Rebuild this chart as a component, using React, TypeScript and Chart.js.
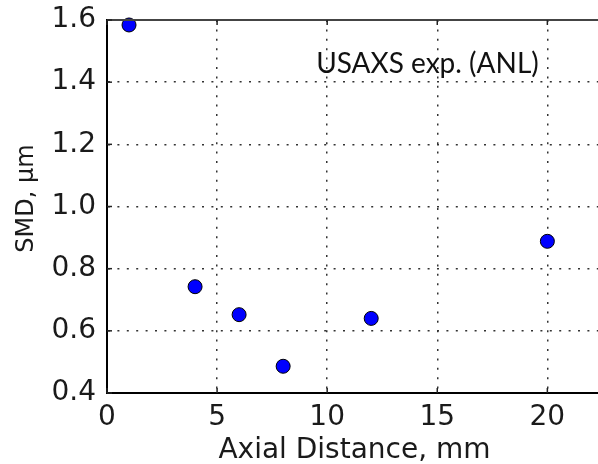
import React, { useEffect, useRef } from "react";
import { Chart, registerables } from "chart.js";

Chart.register(...registerables);

const axialDistance = [1, 4, 6, 8, 12, 20];
const smd = [1.584, 0.742, 0.652, 0.486, 0.64, 0.888];
const xTicks = [0, 5, 10, 15, 20];
const yTicks = [0.4, 0.6, 0.8, 1.0, 1.2, 1.4, 1.6];
const xRange = [0, 22.3];
const yRange = [0.4, 1.6];
const xTitle = "Axial Distance, mm";
const yTitle = "SMD, μm";
const annotationText = "USAXS exp. (ANL)";
const annotationAt = { x: 9.5, y: 1.4296 };

const FONT = "DejaVu Sans";

const decor = {
  id: "decor",
  afterDraw(chart: any) {
    const { ctx, chartArea: a, scales } = chart;
    const x = scales.x;
    const y = scales.y;
    const line = (x1: number, y1: number, x2: number, y2: number) => {
      ctx.beginPath();
      ctx.moveTo(x1, y1);
      ctx.lineTo(x2, y2);
      ctx.stroke();
    };
    ctx.save();
    ctx.strokeStyle = "#444";
    ctx.lineWidth = 2;
    line(a.left, a.top, a.right, a.top);
    ctx.strokeStyle = "#222";
    ctx.lineWidth = 1.5;
    xTicks.forEach((v) => {
      const px = x.getPixelForValue(v);
      line(px, a.bottom, px, a.bottom - 5);
      line(px, a.top, px, a.top + 5);
    });
    yTicks.forEach((v) => {
      const py = y.getPixelForValue(v);
      line(a.left, py, a.left + 5, py);
    });
    // annotation
    ctx.font = "28px Lato";
    ctx.fillStyle = "#111";
    ctx.textAlign = "left";
    ctx.textBaseline = "alphabetic";
    ctx.fillText(annotationText, x.getPixelForValue(annotationAt.x), y.getPixelForValue(annotationAt.y));
    // x title
    ctx.fillStyle = "#1a1a1a";
    ctx.font = `28px "${FONT}"`;
    ctx.textAlign = "center";
    ctx.fillText(xTitle, (a.left + a.right) / 2 + 2, a.bottom + 65);
    // y title
    ctx.font = `24px "${FONT}"`;
    ctx.translate(33, (a.top + a.bottom) / 2 - 8);
    ctx.rotate(-Math.PI / 2);
    ctx.fillText(yTitle, 0, 0);
    ctx.restore();
  },
};

export default function App() {
  const ref = useRef<HTMLCanvasElement | null>(null);
  useEffect(() => {
    if (!ref.current) return;
    const chart = new Chart(ref.current, {
      type: "scatter",
      data: {
        datasets: [
          {
            data: axialDistance.map((v, i) => ({ x: v, y: smd[i] })),
            backgroundColor: "#0000ff",
            borderColor: "#000",
            borderWidth: 1,
            pointRadius: 7,
            pointHoverRadius: 7,
            clip: false as any,
          },
        ],
      },
      options: {
        responsive: false,
        animation: false,
        layout: { autoPadding: false, padding: { top: 20, right: 0, bottom: 0, left: 0 } },
        plugins: { legend: { display: false }, tooltip: { enabled: false } },
        scales: {
          x: {
            type: "linear",
            min: xRange[0],
            max: xRange[1],
            afterBuildTicks: (s: any) => {
              s.ticks = xTicks.map((v) => ({ value: v }));
            },
            afterFit: (s: any) => {
              s.height = 71;
              s.paddingLeft = 0;
              s.paddingRight = 0;
            },
            ticks: {
              font: { family: FONT, size: 28 },
              color: "#1a1a1a",
              padding: 8,
              maxRotation: 0,
              autoSkip: false,
              callback: (v: any) => String(v),
            },
            grid: { color: "#333", lineWidth: 1.5, drawTicks: false },
            border: { display: true, color: "#000", width: 2, dash: [2, 7.4] },
            title: { display: false },
          },
          y: {
            type: "linear",
            min: yRange[0],
            max: yRange[1],
            afterBuildTicks: (s: any) => {
              s.ticks = yTicks.map((v) => ({ value: v }));
            },
            afterFit: (s: any) => {
              s.width = 107;
              s.paddingTop = 0;
              s.paddingBottom = 0;
            },
            ticks: {
              font: { family: FONT, size: 28 },
              color: "#1a1a1a",
              padding: 11,
              autoSkip: false,
              callback: (v: any) => Number(v).toFixed(1),
            },
            grid: { color: "#333", lineWidth: 1.5, drawTicks: false },
            border: { display: true, color: "#000", width: 2, dash: [2, 7.4] },
            title: { display: false },
          },
        },
      },
      plugins: [decor],
    });
    return () => chart.destroy();
  }, []);
  return (
    <div style={{ position: "absolute", left: 0, top: 0, width: 598, height: 464, background: "#fff" }}>
      <canvas ref={ref} width={598} height={464} style={{ width: 598, height: 464 }} />
    </div>
  );
}
